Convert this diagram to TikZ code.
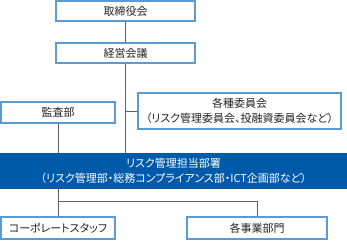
\documentclass[tikz,border=0pt]{standalone}
\usepackage{fontspec}
\setmainfont[RawFeature=+palt]{Noto Sans CJK JP}
\usetikzlibrary{calc}
\definecolor{boxB}{RGB}{91,155,213}
\definecolor{fillB}{RGB}{0,90,170}
\definecolor{lineG}{RGB}{95,95,95}
\definecolor{textG}{RGB}{35,35,35}

\begin{document}
\begin{tikzpicture}[x=1pt,y=-1pt,
  orgbox/.style={draw=boxB,line width=1.1pt,fill=white,text=textG,inner sep=0pt,font=\fontsize{11}{15.5}\selectfont,align=center},
  riskbox/.style={fill=fillB,text=white,inner sep=0pt,font=\fontsize{11}{15.5}\selectfont,align=center},
  link/.style={draw=lineG,line width=0.9pt}]
\useasboundingbox (0,0) rectangle (347,242);
\node[orgbox,minimum width=139pt,minimum height=20pt] (board) at (125.5,11) {取締役会};
\node[orgbox,minimum width=139pt,minimum height=20pt] (mgmt) at (125.5,53) {経営会議};
\node[orgbox,minimum width=203pt,minimum height=36pt] (cmte) at (239.5,111) {各種委員会\\（リスク管理委員会、投融資委員会など）};
\node[orgbox,minimum width=114pt,minimum height=21pt] (audit) at (58,112.5) {監査部};
\node[riskbox,minimum width=347pt,minimum height=36pt] (risk) at (173.5,171) {リスク管理担当部署\\（リスク管理部・総務コンプライアンス部・ICT企画部など）};
\node[orgbox,minimum width=114pt,minimum height=22pt] (staff) at (58,228) {コーポレートスタッフ};
\node[orgbox,minimum width=140pt,minimum height=22pt] (biz) at (257,228) {各事業部門};
\coordinate (fork) at (58,201);
% connectors
\draw[link] (board.south) -- (mgmt.north);
\draw[link] (mgmt.south) -- (mgmt.south |- risk.north);
\draw[link] (mgmt.south |- cmte.west) -- (cmte.west);
\draw[link] (audit.south) -- (audit.south |- risk.north);
\draw[link] (staff.north |- risk.south) -- (staff.north);
\draw[link] (fork) -| (biz.north);
\end{tikzpicture}
\end{document}
